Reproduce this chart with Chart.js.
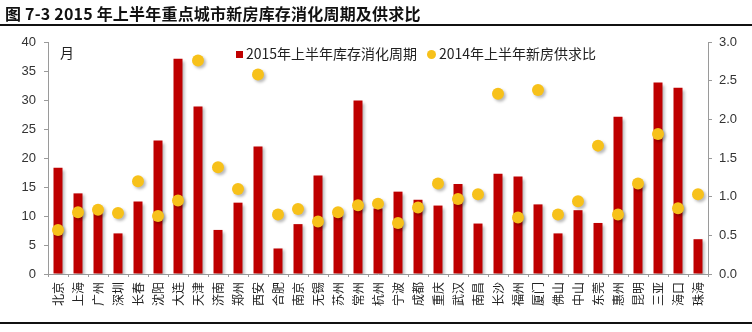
<!DOCTYPE html>
<html>
<head>
<meta charset="utf-8">
<script src="https://cdn.jsdelivr.net/npm/chart.js@4/dist/chart.umd.min.js"></script>
<style>
html,body{margin:0;padding:0;background:#fff;}
#wrap{position:relative;width:752px;height:332px;overflow:hidden;font-family:"Noto Sans CJK SC","Noto Sans",sans-serif;}
#title{position:absolute;left:5px;top:1px;font-size:16px;font-weight:bold;color:#111;white-space:nowrap;letter-spacing:0.2px;}
#topline{position:absolute;left:0;top:24px;width:752px;height:2px;background:#111;}
#botline{position:absolute;left:0;top:322px;width:752px;height:2px;background:#111;}
#unit{position:absolute;left:60px;top:42px;font-size:14px;color:#222;}
.lg{position:absolute;top:43px;font-size:14px;color:#222;white-space:nowrap;}
.sq{display:inline-block;width:7px;height:7px;background:#C00000;margin-right:3px;vertical-align:1px;}
.ci{display:inline-block;width:9px;height:9px;border-radius:50%;background:#F7C11A;margin-right:3px;vertical-align:0px;}
canvas{position:absolute;left:0;top:0;}
</style>
</head>
<body>
<div id="wrap">
<canvas id="c" width="752" height="332"></canvas>
<div id="title">图 7-3 2015 年上半年重点城市新房库存消化周期及供求比</div>
<div id="topline"></div>
<div id="botline"></div>
<div id="unit">月</div>
<div class="lg" style="left:236px"><span class="sq"></span>2015年上半年库存消化周期</div>
<div class="lg" style="left:427px"><span class="ci"></span>2014年上半年新房供求比</div>
</div>
<script>
const cities = ["北京","上海","广州","深圳","长春","沈阳","大连","天津","济南","郑州","西安","合肥","南京","无锡","苏州","常州","杭州","宁波","成都","重庆","武汉","南昌","长沙","福州","厦门","佛山","中山","东莞","惠州","昆明","三亚","海口","珠海"];
const inventoryCycle2015 = [18.3,13.9,10.9,7.0,12.5,23.0,37.1,28.9,7.6,12.3,22.0,4.4,8.6,17.0,10.7,29.9,11.3,14.2,12.8,11.8,15.5,8.7,17.3,16.8,12.0,7.0,11.0,8.8,27.1,15.9,33.0,32.1,6.0];
const supplyDemand2014 = [0.57,0.80,0.83,0.79,1.20,0.75,0.95,2.76,1.38,1.10,2.58,0.77,0.84,0.68,0.80,0.89,0.91,0.66,0.86,1.17,0.97,1.03,2.33,0.73,2.38,0.77,0.94,1.66,0.77,1.17,1.81,0.85,1.03];
const leftTicks = [0,5,10,15,20,25,30,35,40];
const rightTicks = [0,0.5,1.0,1.5,2.0,2.5,3.0];

const shadowPlugin = {
  id:'shadow',
  beforeDatasetsDraw(chart){const ctx=chart.ctx;ctx.save();ctx.shadowColor='rgba(0,0,0,0.28)';ctx.shadowBlur=3;ctx.shadowOffsetX=2;ctx.shadowOffsetY=2;},
  afterDatasetsDraw(chart){chart.ctx.restore();}
};

const axisColor = '#9a9a9a';
const tickFont = {family:'"Liberation Sans","DejaVu Sans",sans-serif', size:13};

new Chart(document.getElementById('c'), {
  data:{
    labels: cities,
    datasets:[
      {type:'line', label:'2014年上半年新房供求比', data:supplyDemand2014, yAxisID:'y2', showLine:false,
       pointRadius:6, pointHoverRadius:6, pointBackgroundColor:'#F7C11A', pointBorderWidth:0, order:0},
      {type:'bar', label:'2015年上半年库存消化周期', data:inventoryCycle2015, yAxisID:'y',
       backgroundColor:'#BE0000', barPercentage:0.45, categoryPercentage:1.0, order:1}
    ]
  },
  options:{
    responsive:false, animation:false,
    layout:{padding:{top:42,left:0,right:0,bottom:0}},
    plugins:{legend:{display:false}, tooltip:{enabled:false}},
    scales:{
      x:{
        grid:{display:true, drawOnChartArea:false, offset:true, tickLength:3, color:axisColor},
        border:{color:axisColor},
        ticks:{minRotation:90, maxRotation:90, autoSkip:false, padding:5, color:'#222', font:{family:'"Noto Sans CJK SC",sans-serif', size:12}},
        afterFit(s){s.height=58;}
      },
      y:{
        position:'left', min:0, max:40,
        afterBuildTicks(s){s.ticks = leftTicks.map(v=>({value:v}));},
        grid:{drawOnChartArea:false, tickLength:4, color:axisColor},
        border:{color:axisColor},
        ticks:{color:'#333', font:tickFont, padding:8},
        afterFit(s){s.width=48;}
      },
      y2:{
        position:'right', min:0, max:3,
        afterBuildTicks(s){s.ticks = rightTicks.map(v=>({value:v}));},
        grid:{drawOnChartArea:false, tickLength:4, color:axisColor},
        border:{color:axisColor},
        ticks:{color:'#333', font:tickFont, padding:7, callback:v=>Number(v).toFixed(1)},
        afterFit(s){s.width=44;}
      }
    }
  },
  plugins:[shadowPlugin]
});
</script>
</body>
</html>
